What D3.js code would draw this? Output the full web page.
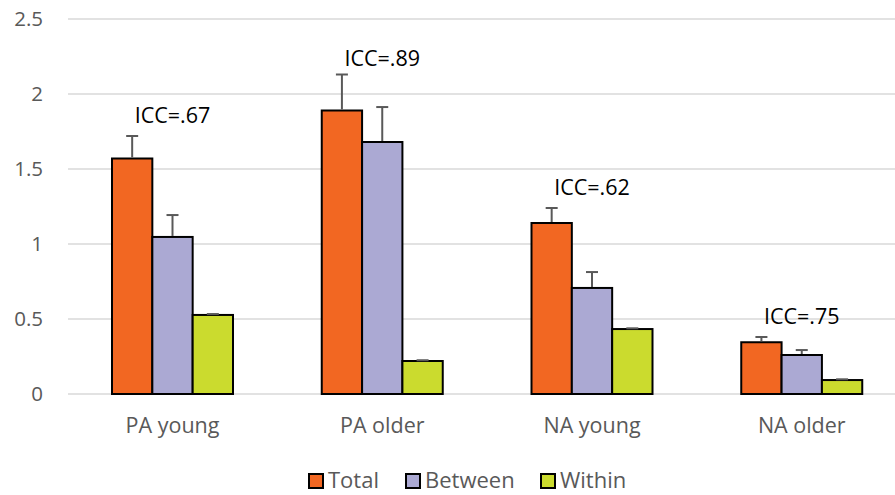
<!DOCTYPE html>
<html lang="en">
<head>
  <meta charset="utf-8"/>
  <script src="https://d3js.org/d3.v7.min.js"></script>
  <style>
  body { margin: 0; background: white; }
  text { font-family: "Open Sans", sans-serif; fill: #595959; }
  .grid line { stroke: #d9d9d9; stroke-width: 1.5px; }
  .bar { stroke: black; stroke-width: 2px; }
  .err { stroke: #595959; stroke-width: 2px; fill: none; }
  </style>
</head>
<body>
<svg id="chart" width="895" height="495"></svg>
<script>
  const groups = ["PA young", "PA older", "NA young", "NA older"];
  const seriesNames = ["Total", "Between", "Within"];
  const colors = ["#f26722", "#aba9d3", "#cbdb2e"];
  // values per group: total, between, within
  const total = [1.57, 1.89, 1.14, 0.345];
  const between = [1.047, 1.68, 0.707, 0.26];
  const within = [0.527, 0.22, 0.433, 0.093];
  // upper error (value + error)
  const totalErr = [1.72, 2.13, 1.24, 0.38];
  const betweenErr = [1.193, 1.913, 0.813, 0.293];
  const withinErr = [0.533, 0.225, 0.438, 0.098];
  const iccLabels = ["ICC=.67", "ICC=.89", "ICC=.62", "ICC=.75"];
  const iccY = [1.81, 2.19, 1.33, 0.467];
  const yTicks = [0, 0.5, 1, 1.5, 2, 2.5];

  const svg = d3.select("#chart");
  const mLeft = 68, mRight = 907, mTop = 19, mBottom = 394;

  const x = d3.scaleBand().domain(groups).range([mLeft, mRight]).paddingInner(0).paddingOuter(0);
  const xs = d3.scaleBand().domain(seriesNames).range([44, 44 + 121]);
  const y = d3.scaleLinear().domain([0, 2.5]).range([mBottom, mTop]);
  const mid = d => x(d) + 44 + 60.5;

  // gridlines
  svg.append("g").attr("class", "grid")
    .selectAll("line").data(yTicks).enter().append("line")
    .attr("x1", mLeft).attr("x2", 895)
    .attr("y1", d => y(d)).attr("y2", d => y(d));

  // y tick labels
  svg.append("g").selectAll("text").data(yTicks).enter().append("text")
    .attr("x", 43).attr("y", d => y(d)).attr("dy", "0.36em")
    .attr("text-anchor", "end").style("font-size", "20.5px")
    .text(d => d3.format("")(d));

  const vals = [total, between, within];
  const errs = [totalErr, betweenErr, withinErr];

  seriesNames.forEach(function(s, si) {
    const g = svg.append("g");
    g.selectAll("rect").data(groups).enter().append("rect")
      .attr("class", "bar")
      .attr("x", d => x(d) + xs(s))
      .attr("width", xs.bandwidth())
      .attr("y", (d, i) => y(vals[si][i]))
      .attr("height", (d, i) => y(0) - y(vals[si][i]))
      .style("fill", colors[si]);
    // error bars
    const e = svg.append("g");
    groups.forEach(function(d, i) {
      const cx = x(d) + xs(s) + xs.bandwidth() / 2;
      e.append("line").attr("class", "err")
        .attr("x1", cx).attr("x2", cx)
        .attr("y1", y(vals[si][i]) - 1).attr("y2", y(errs[si][i]));
      e.append("line").attr("class", "err")
        .attr("x1", cx - 6).attr("x2", cx + 6)
        .attr("y1", y(errs[si][i])).attr("y2", y(errs[si][i]));
    });
  });

  // ICC labels
  svg.append("g").selectAll("text").data(groups).enter().append("text")
    .attr("x", d => mid(d))
    .attr("y", (d, i) => y(iccY[i]))
    .attr("text-anchor", "middle")
    .style("font-size", "21.5px").style("fill", "black")
    .text((d, i) => iccLabels[i]);

  // x labels
  svg.append("g").selectAll("text").data(groups).enter().append("text")
    .attr("x", d => mid(d))
    .attr("y", 433)
    .attr("text-anchor", "middle")
    .style("font-size", "21.5px")
    .text(d => d);

  // legend
  const legX = [309, 406, 541];
  const leg = svg.append("g");
  seriesNames.forEach(function(s, i) {
    leg.append("rect").attr("x", legX[i]).attr("y", 474).attr("width", 14).attr("height", 14)
      .style("fill", colors[i]).style("stroke", "black").style("stroke-width", 2);
    leg.append("text").attr("x", legX[i] + 19).attr("y", 488)
      .style("font-size", "22px").text(s);
  });
</script>
</body>
</html>
